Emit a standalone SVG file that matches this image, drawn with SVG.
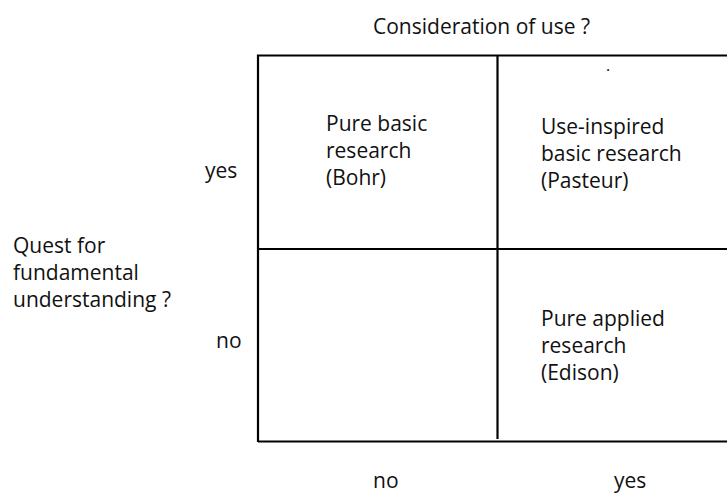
<svg xmlns="http://www.w3.org/2000/svg" width="727" height="493" viewBox="0 0 727 493">
  <style>
    text { font-family: "Open Sans", "Noto Sans", sans-serif; font-size: 21px; fill: #111; }
    .grid { fill: none; stroke: #000; stroke-width: 2.2; }
  </style>
  <rect width="727" height="493" fill="#fff"/>

  <!-- axis titles -->
  <g id="axis-top">
    <text x="373" y="34">Consideration of use ?</text>
  </g>
  <g id="axis-left">
    <text x="13" y="253">Quest for</text>
    <text x="13" y="280">fundamental</text>
    <text x="13" y="307">understanding ?</text>
  </g>

  <!-- axis values -->
  <g id="row-labels">
    <text x="205" y="178">yes</text>
    <text x="216" y="348">no</text>
  </g>
  <g id="col-labels">
    <text x="373" y="488">no</text>
    <text x="614" y="488">yes</text>
  </g>

  <!-- quadrant frame -->
  <g id="connectors">
    <path class="grid" d="M258 442 V55.5 H728 M258 441.5 H728"/>
    <path class="grid" d="M497.5 55.5 V439"/>
    <path class="grid" d="M258 249 H728"/>
  </g>

  <!-- quadrants -->
  <g id="q-bohr">
    <text x="326" y="131">Pure basic</text>
    <text x="326" y="158">research</text>
    <text x="326" y="185">(Bohr)</text>
  </g>
  <g id="q-pasteur">
    <text x="606" y="71" style="font-size:16px">.</text>
    <text x="541" y="134">Use-inspired</text>
    <text x="541" y="161">basic research</text>
    <text x="541" y="188">(Pasteur)</text>
  </g>
  <g id="q-edison">
    <text x="541" y="326">Pure applied</text>
    <text x="541" y="353">research</text>
    <text x="541" y="380">(Edison)</text>
  </g>
</svg>
